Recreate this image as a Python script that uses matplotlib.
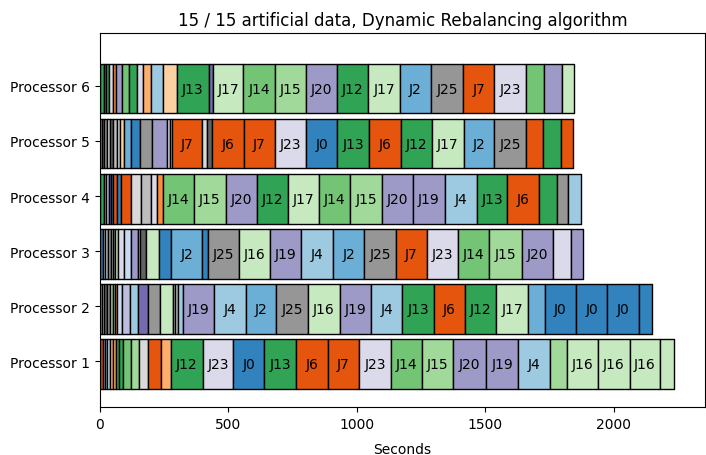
import numpy as np
import matplotlib.pyplot as plt

# Job ids (J<n>) and run times in seconds for each processor, in execution order
p1_jobs = [6, 21, 3, 5, 10, 9, 13, 12, 14, 15, 28, 7, 9, 12, 23, 0, 13, 6, 7, 23, 14, 15, 20, 19, 4, 15, 16, 16, 16, 16]
p1_dur = [12, 9, 8, 9, 13, 13, 9, 17, 32, 29, 36, 52, 38, 123, 119, 121, 123, 123, 124, 122, 123, 121, 126, 127, 121, 68, 119, 125, 119, 52]

p2_jobs = [21, 16, 24, 26, 15, 28, 8, 5, 21, 3, 18, 26, 17, 28, 27, 3, 19, 4, 2, 25, 16, 19, 4, 13, 6, 12, 17, 2, 0, 0, 0, 0]
p2_dur = [9, 8, 9, 12, 13, 9, 8, 17, 32, 32, 37, 48, 49, 9, 13, 19, 120, 124, 119, 123, 123, 123, 121, 122, 121, 123, 123, 65, 123, 121, 123, 52]

p3_jobs = [1, 28, 27, 26, 28, 26, 16, 22, 5, 19, 28, 24, 16, 1, 2, 0, 25, 16, 19, 4, 2, 25, 7, 23, 14, 15, 20, 23, 19]
p3_dur = [12, 9, 10, 10, 9, 9, 10, 23, 28, 29, 8, 22, 52, 47, 119, 23, 120, 121, 121, 126, 121, 123, 120, 123, 121, 126, 121, 70, 47]

p4_jobs = [12, 3, 21, 18, 1, 6, 1, 7, 28, 27, 22, 8, 14, 15, 20, 12, 17, 14, 15, 20, 19, 4, 13, 6, 13, 26, 3]
p4_dur = [16, 9, 10, 9, 8, 13, 18, 37, 39, 41, 23, 23, 120, 124, 120, 120, 123, 121, 123, 123, 121, 126, 119, 124, 70, 43, 48]

p5_jobs = [3, 1, 26, 28, 24, 27, 28, 11, 2, 1, 26, 19, 22, 5, 7, 28, 24, 6, 7, 23, 0, 13, 6, 12, 17, 2, 25, 7, 13, 6]
p5_dur = [7, 10, 12, 11, 12, 13, 13, 14, 30, 35, 46, 58, 10, 9, 117, 20, 19, 123, 121, 123, 119, 127, 122, 121, 123, 119, 125, 67, 68, 47]

p6_jobs = [12, 13, 12, 22, 8, 19, 14, 13, 23, 9, 4, 11, 13, 18, 17, 14, 15, 20, 12, 17, 2, 25, 7, 23, 14, 20, 16]
p6_dur = [16, 8, 11, 15, 14, 20, 29, 31, 25, 30, 48, 51, 125, 16, 119, 122, 121, 123, 121, 122, 121, 126, 121, 123, 71, 68, 47]

processors = ["Processor 1", "Processor 2", "Processor 3", "Processor 4", "Processor 5", "Processor 6"]
schedule = [(p1_jobs, p1_dur), (p2_jobs, p2_dur), (p3_jobs, p3_dur),
            (p4_jobs, p4_dur), (p5_jobs, p5_dur), (p6_jobs, p6_dur)]

n_jobs = 29
cmap = plt.get_cmap("tab20c")

fig, ax = plt.subplots(figsize=(7.06, 4.56), dpi=100)
fig.subplots_adjust(left=100 / 706, right=705 / 706, top=1 - 34 / 456, bottom=1 - 408 / 456)

for i, (jobs, dur) in enumerate(schedule):
    dur = np.array(dur, dtype=float)
    starts = np.concatenate([[0], np.cumsum(dur)[:-1]])
    colors = [cmap(j / n_jobs) for j in jobs]
    ax.broken_barh(list(zip(starts, dur)), (10 * i, 9), facecolors=colors,
                   edgecolor="black", linewidth=1)
    # only long enough tasks get a label
    for j, s, d in zip(jobs, starts, dur):
        if d > 100:
            ax.text(s + d / 2, 10 * i + 4.5, f"J{j}", ha="center", va="center", fontsize=10)

ax.set_yticks([10 * i + 5 for i in range(len(processors))])
ax.set_yticklabels(processors)
ax.set_xlim(0, 2355)
ax.set_ylim(-3.3, 64.6)
ax.set_xlabel("Seconds", labelpad=8)
ax.set_title("15 / 15 artificial data, Dynamic Rebalancing algorithm")

plt.savefig("out.png")
